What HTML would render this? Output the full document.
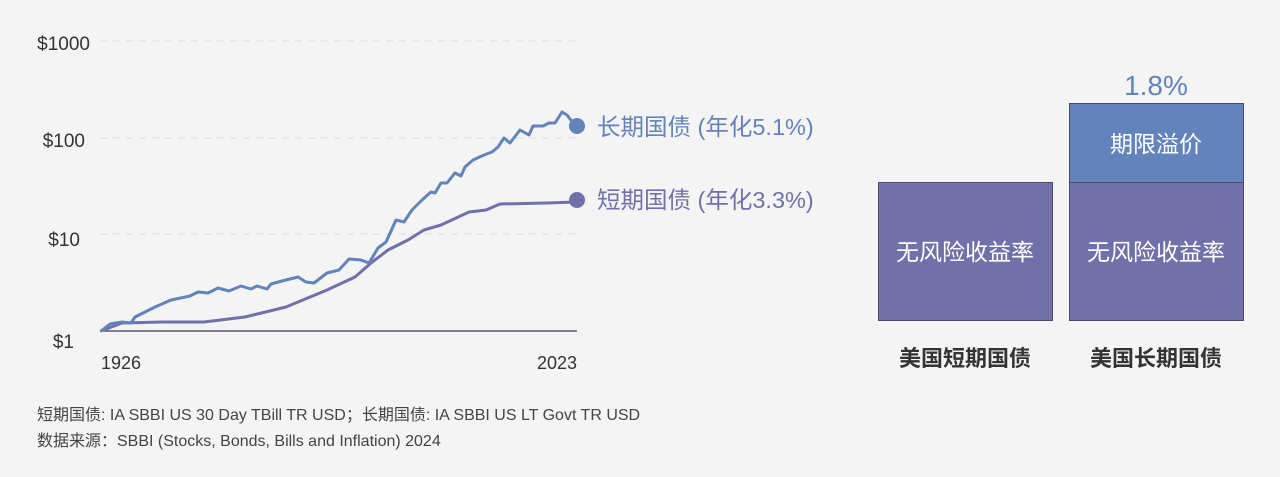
<!DOCTYPE html>
<html><head><meta charset="utf-8"><style>
body{margin:0;background:#f4f4f4;}
svg{display:block;font-family:"Liberation Sans","Noto Sans CJK SC",sans-serif;}
</style></head><body>
<svg width="1280" height="477" viewBox="0 0 1280 477">
<rect width="1280" height="477" fill="#f4f4f4"/>
<g stroke="#dcdde3" stroke-dasharray="7,6" stroke-width="1">
<line x1="100" y1="41" x2="578" y2="41"/>
<line x1="100" y1="138" x2="578" y2="138"/>
<line x1="100" y1="234" x2="578" y2="234"/>
</g>
<line x1="100" y1="331" x2="577" y2="331" stroke="#3a3a48" stroke-width="1.2"/>
<g fill="#333" font-size="19" text-anchor="end">
<text x="90" y="50">$1000</text>
<text x="85" y="147">$100</text>
<text x="80" y="246">$10</text>
<text x="74" y="348">$1</text>
</g>
<g fill="#333" font-size="18">
<text x="101" y="369">1926</text>
<text x="577" y="369" text-anchor="end">2023</text>
</g>
<polyline fill="none" stroke="#7170aa" stroke-width="3" stroke-linejoin="round" points="101,331 122,323 163,322 204,322 245,317 286,307 327,290 355,277 371,263 388,250 408,240 424,230 441,225 469,212 486,210 500,204 547,203 576,202"/>
<polyline fill="none" stroke="#6283bb" stroke-width="3" stroke-linejoin="round" points="101,331 110,324 122,322 131,323 135,317 143,313 155,307 171,300 190,296 198,292 208,293 218,288 229,291 241,286 251,289 257,286 267,289 271,284 282,281 298,277 306,282 314,283 327,273 339,270 349,259 361,260 369,263 378,248 386,242 396,220 404,222 412,210 422,200 431,192 435,193 441,183 447,183 455,173 461,176 465,167 473,160 484,155 492,152 498,147 504,138 510,143 520,130 529,135 533,126 543,126 549,123 555,123 562,112 567,115 576,127"/>
<circle cx="577" cy="126" r="8" fill="#6283bb"/>
<circle cx="577" cy="200" r="8" fill="#7170aa"/>
<text x="597" y="135" font-size="23.5" fill="#6283bb">长期国债 (年化5.1%)</text>
<text x="597" y="208" font-size="23.5" fill="#7170aa">短期国债 (年化3.3%)</text>
<rect x="878.5" y="182.5" width="174" height="138" fill="#7170aa" stroke="#4b4b66" stroke-width="1"/>
<rect x="1069.5" y="182.5" width="174" height="138" fill="#7170aa" stroke="#4b4b66" stroke-width="1"/>
<rect x="1069.5" y="103.5" width="174" height="79" fill="#6283bb" stroke="#4b4b66" stroke-width="1"/>
<g fill="#fff" font-size="23" text-anchor="middle">
<text x="965" y="260">无风险收益率</text>
<text x="1156" y="260">无风险收益率</text>
<text x="1156" y="152">期限溢价</text>
</g>
<text x="1156" y="95" font-size="28" fill="#6283bb" text-anchor="middle">1.8%</text>
<g fill="#333" font-size="22" text-anchor="middle" font-weight="bold">
<text x="965" y="366">美国短期国债</text>
<text x="1156" y="366">美国长期国债</text>
</g>
<g fill="#444" font-size="16">
<text x="37" y="420">短期国债: IA SBBI US 30 Day TBill TR USD；长期国债:  IA SBBI US LT Govt TR USD</text>
<text x="37" y="446">数据来源：SBBI (Stocks, Bonds, Bills and Inflation) 2024</text>
</g>
</svg>
</body></html>
